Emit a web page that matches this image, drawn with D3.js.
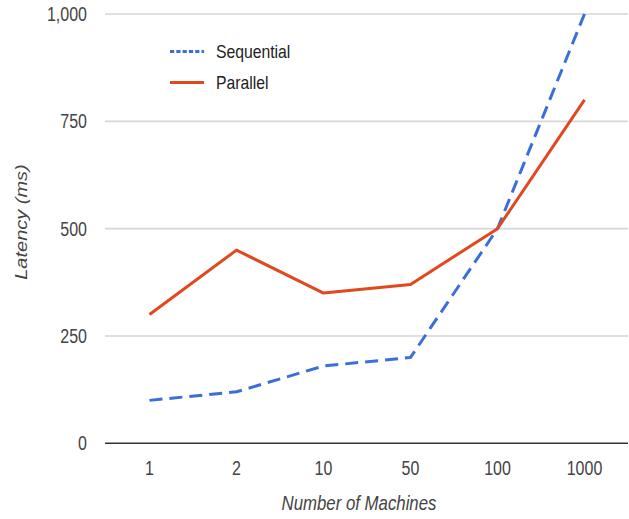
<!DOCTYPE html>
<html><head><meta charset="utf-8">
<script src="https://cdn.jsdelivr.net/npm/d3@7"></script>
<style>body{margin:0;background:#fff}svg{display:block}</style>
</head><body>
<svg id="c" width="629" height="519"></svg>
<script>
const categories = ["1","2","10","50","100","1000"];
const sequential = [100,120,180,200,500,1000];
const parallel = [300,450,350,370,500,800];
const yTicks = [0,250,500,750,1000];
const seriesNames = ["Sequential","Parallel"];
const seriesColors = ["#3c6edb","#e0481e"];

const svg = d3.select("#c");
const plotLeft = 105, plotRight = 628, plotTop = 14, plotBottom = 443.3;
const x = d3.scaleBand().domain(categories).range([plotLeft+1, plotRight]);
const y = d3.scaleLinear().domain([0,1000]).range([plotBottom, plotTop]);
const font = "'Liberation Sans', Arial, sans-serif";

// gridlines
svg.append("g").selectAll("line").data(yTicks.filter(d=>d>0)).join("line")
  .attr("x1", plotLeft).attr("x2", plotRight)
  .attr("y1", d=>y(d)).attr("y2", d=>y(d))
  .attr("stroke","#d6d6d6").attr("stroke-width",1.6);

// y tick labels
const fmt = d3.format(",");
svg.append("g").selectAll("text").data(yTicks).join("text")
  .attr("transform", d=>`translate(87,${y(d)}) scale(0.82,1)`)
  .attr("text-anchor","end").attr("dy","0.36em")
  .attr("font-family",font).attr("font-size",19.5).attr("fill","#444")
  .text(d=>fmt(d));

// x axis baseline
svg.append("line").attr("x1",plotLeft).attr("x2",plotRight)
  .attr("y1",y(0)).attr("y2",y(0)).attr("stroke","#333").attr("stroke-width",1.6);

// x tick labels
svg.append("g").selectAll("text").data(categories).join("text")
  .attr("transform", d=>`translate(${x(d)+x.bandwidth()/2},475) scale(0.82,1)`)
  .attr("text-anchor","middle")
  .attr("font-family",font).attr("font-size",19.5).attr("fill","#444")
  .text(d=>d);

// axis titles
svg.append("text")
  .attr("transform","translate(359,510) scale(0.84,1)")
  .attr("text-anchor","middle").attr("font-style","italic")
  .attr("font-family",font).attr("font-size",20).attr("fill","#444")
  .text("Number of Machines");
svg.append("text")
  .attr("transform","translate(27,222) rotate(-90) scale(1,0.84)")
  .attr("text-anchor","middle").attr("font-style","italic")
  .attr("font-family",font).attr("font-size",20).attr("fill","#444")
  .text("Latency (ms)");

// lines
const line = d3.line().x((d,i)=>x(categories[i])+x.bandwidth()/2).y(d=>y(d));
svg.append("path").datum(sequential).attr("d",line)
  .attr("fill","none").attr("stroke",seriesColors[0]).attr("stroke-width",3)
  .attr("stroke-dasharray","13,7");
svg.append("path").datum(parallel).attr("d",line)
  .attr("fill","none").attr("stroke",seriesColors[1]).attr("stroke-width",3)
  .attr("stroke-linejoin","round");

// legend
const legY = [51.5, 82.5];
seriesNames.forEach((n,i)=>{
  svg.append("line").attr("x1",170).attr("x2",204).attr("y1",legY[i]).attr("y2",legY[i])
    .attr("stroke",seriesColors[i]).attr("stroke-width",3)
    .attr("stroke-dasharray", i===0 ? "4.2,2.1" : null);
  svg.append("text").attr("transform",`translate(216,${legY[i]}) scale(0.9,1)`)
    .attr("dy","0.36em").attr("font-family",font).attr("font-size",17.5).attr("fill","#222")
    .text(n);
});
</script>
</body></html>
